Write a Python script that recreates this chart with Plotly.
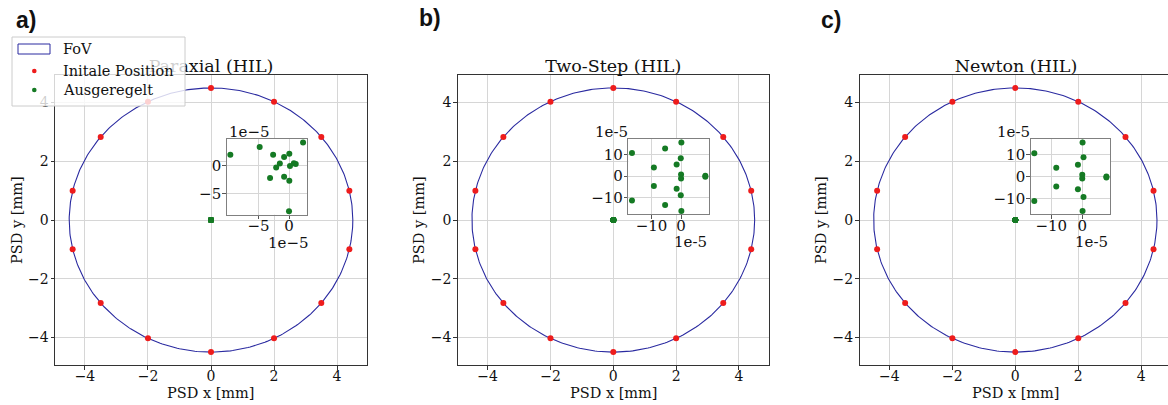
import numpy as np
import plotly.graph_objects as go

W, H = 1168, 405

# ---------------- data ----------------
FOV_RADIUS = 4.5  # mm
init_x = [0.0, 2.0, 3.5, 4.39, 4.39, 3.5, 2.0, 0.0, -2.0, -3.5, -4.39, -4.39, -3.5, -2.0]
init_y = [4.5, 4.03, 2.83, 1.0, -1.0, -2.83, -4.03, -4.5, -4.03, -2.83, -1.0, 1.0, 2.83, 4.03]

OFFSET = 1e-5  # settled positions are given in units of 1e-5 mm
settled_a_x = [-9.6, -4.8, 2.3, -2.6, -0.8, 0.05, -1.5, -2.1, 0.16, 0.8, 1.1, -3.1, -0.8, 0.05, 0.0]
settled_a_y = [1.9, 3.3, 4.1, 1.9, 1.5, 2.1, 0.35, -0.35, -0.06, 0.4, 0.3, -2.2, -2.0, -2.7, -8.1]
settled_b_x = [-16.6, -5.4, 0.1, -9.2, -1.5, -0.1, 0.0, 0.0, 8.2, 8.2, -9.2, -1.5, -0.1, -16.6, -5.4, 0.1]
settled_b_y = [10.8, 12.9, 15.7, 4.0, 5.5, 8.3, 0.8, -1.1, 0.2, -0.3, -4.6, -5.8, -8.8, -11.3, -13.4, -16.1]
settled_c_x = [-15.5, 0.1, 0.4, -8.4, -1.4, 0.0, 0.0, 7.8, 7.8, -8.4, -1.4, 0.4, -15.5, 0.1]
settled_c_y = [10.8, 15.8, 8.9, 4.1, 5.5, 0.9, -0.9, 0.1, -0.4, -4.5, -5.8, -9.4, -11.2, -15.8]

panel_titles = ["Paraxial (HIL)", "Two-Step (HIL)", "Newton (HIL)"]
panel_labels = ["a)", "b)", "c)"]
legend_names = ["FoV", "Initale Position", "Ausgeregelt"]
main_ticks = [-4, -2, 0, 2, 4]
main_ticktext = ["\u22124", "\u22122", "0", "2", "4"]
inset_x_ticks = [[-5, 0], [-10, 0], [-10, 0]]
inset_y_ticks = [[-5, 0], [-10, 0, 10], [-10, 0, 10]]
offset_labels = ["1e\u22125", "1e-5", "1e-5"]

# ---------------- styling / layout geometry ----------------
SERIF = "DejaVu Serif"
BLUE = "#2a2aa0"
RED = "#ee1c1c"
GREEN = "#157a24"
GRID = "#d6d6d6"
SPINE = "#333333"


def fx(p):
    return p / W


def fy(p):
    return 1 - p / H


MAIN_TOP, MAIN_BOTTOM = 74.7, 365.3
YLIM = 4.95
main_x_dom = [[55.0, 367.0], [457.8, 768.8], [859.5, 1168.0]]
main_y_dom = [fy(MAIN_BOTTOM), fy(MAIN_TOP)]
main_x_range = [[-4.95, 4.95], [-4.95, 4.95], [-4.95, 4.85]]
title_cx = [211.0, 613.3, 1016.0]
inset_x_dom = [[226.7, 306.7], [628.3, 709.0], [1030.7, 1110.0]]
inset_y_dom = [[214.7, 139.0], [214.3, 139.0], [214.3, 139.0]]
upper_off = [(227, 132), (592.7, 131.7), (995, 131.7)]
lower_off = [(266, 242.5), (671.7, 242.3), (1073, 242.3)]
label_pos = [(14, 20), (417, 18), (819, 20)]
ytitle_x = [17, 419, 821]

settled = [(settled_a_x, settled_a_y), (settled_b_x, settled_b_y), (settled_c_x, settled_c_y)]

theta = np.linspace(0, 2 * np.pi, 400)
circ_x = FOV_RADIUS * np.cos(theta)
circ_y = FOV_RADIUS * np.sin(theta)

fig = go.Figure()
layout = dict(
    width=W, height=H, autosize=False,
    margin=dict(l=0, r=0, t=0, b=0),
    paper_bgcolor="white", plot_bgcolor="white",
    font=dict(family=SERIF, size=14, color="#111"),
    showlegend=False,
)
annotations = []
shapes = []

for i in range(3):
    xa = "x" if i == 0 else f"x{i+1}"
    ya = "y" if i == 0 else f"y{i+1}"
    sx, sy = settled[i]
    gx = np.array(sx) * OFFSET
    gy = np.array(sy) * OFFSET

    fig.add_trace(go.Scatter(x=circ_x, y=circ_y, mode="lines", name=legend_names[0],
                             line=dict(color=BLUE, width=1.1),
                             xaxis=xa, yaxis=ya, hoverinfo="skip"))
    fig.add_trace(go.Scatter(x=init_x, y=init_y, mode="markers", name=legend_names[1],
                             marker=dict(color=RED, size=6), xaxis=xa, yaxis=ya))
    fig.add_trace(go.Scatter(x=gx, y=gy, mode="markers", name=legend_names[2],
                             marker=dict(color=GREEN, size=6), xaxis=xa, yaxis=ya))

    key = "" if i == 0 else str(i + 1)
    layout["xaxis" + key] = dict(
        domain=[fx(main_x_dom[i][0]), fx(main_x_dom[i][1])], anchor=ya,
        range=main_x_range[i], tickvals=main_ticks, ticktext=main_ticktext,
        showgrid=True, gridcolor=GRID, gridwidth=0.8, zeroline=False,
        showline=True, linecolor=SPINE, linewidth=1, mirror=True,
        ticks="outside", ticklen=3.5, tickwidth=0.8, tickcolor=SPINE,
        ticklabelstandoff=-6,
        tickfont=dict(family=SERIF, size=14), fixedrange=True,
    )
    layout["yaxis" + key] = dict(
        domain=main_y_dom, anchor=xa,
        range=[-YLIM, YLIM], tickvals=main_ticks, ticktext=main_ticktext,
        showgrid=True, gridcolor=GRID, gridwidth=0.8, zeroline=False,
        showline=True, linecolor=SPINE, linewidth=1, mirror=(i < 2),
        ticks="outside", ticklen=3.5, tickwidth=0.8, tickcolor=SPINE,
        ticklabelstandoff=-1,
        tickfont=dict(family=SERIF, size=14), fixedrange=True,
    )

    # panel title as a shape label (so the legend box can be layered over it)
    shapes.append(dict(type="rect", xref="paper", yref="paper", layer="above",
                       x0=fx(title_cx[i] - 100), x1=fx(title_cx[i] + 100),
                       y0=fy(74), y1=fy(54), line=dict(color="rgba(0,0,0,0)", width=0),
                       fillcolor="rgba(0,0,0,0)",
                       label=dict(text=panel_titles[i], textposition="middle center",
                                  font=dict(family=SERIF, size=17.5, color="#111"))))

    cx = main_x_dom[i][0] + 156.0
    annotations.append(dict(text="<b>" + panel_labels[i] + "</b>", x=fx(label_pos[i][0]),
                            y=fy(label_pos[i][1]), xref="paper", yref="paper", showarrow=False,
                            xanchor="left", yanchor="middle",
                            font=dict(family="Liberation Sans", size=23, color="#111")))
    annotations.append(dict(text="PSD x [mm]", x=fx(cx), y=fy(393), xref="paper", yref="paper",
                            showarrow=False, xanchor="center", yanchor="middle",
                            font=dict(family=SERIF, size=14.5, color="#111")))
    annotations.append(dict(text="PSD y [mm]", x=fx(ytitle_x[i]), y=fy(220), xref="paper",
                            yref="paper", showarrow=False, xanchor="center", yanchor="middle",
                            textangle=-90, font=dict(family=SERIF, size=14.5, color="#111")))

# insets
for i in range(3):
    n = i + 4
    xa, ya = f"x{n}", f"y{n}"
    sx, sy = settled[i]
    gx = np.array(sx) * OFFSET
    gy = np.array(sy) * OFFSET
    fig.add_trace(go.Scatter(x=gx, y=gy, mode="markers", name=legend_names[2],
                             marker=dict(color=GREEN, size=6), xaxis=xa, yaxis=ya))
    xpad = 0.05 * (max(gx) - min(gx))
    ypad = 0.05 * (max(gy) - min(gy))
    xt = [v * OFFSET for v in inset_x_ticks[i]]
    yt = [v * OFFSET for v in inset_y_ticks[i]]
    fmt = lambda v: ("\u2212" + str(-v)) if v < 0 else str(v)
    layout[f"xaxis{n}"] = dict(
        domain=[fx(inset_x_dom[i][0]), fx(inset_x_dom[i][1])], anchor=ya,
        range=[min(gx) - xpad, max(gx) + xpad],
        tickvals=xt, ticktext=[fmt(v) for v in inset_x_ticks[i]],
        showgrid=True, gridcolor=GRID, gridwidth=0.8, zeroline=False,
        showline=True, linecolor="#808080", linewidth=1, mirror=True,
        ticks="outside", ticklen=3.5, tickwidth=0.8, tickcolor="#555",
        ticklabelstandoff=-6,
        tickfont=dict(family=SERIF, size=15), fixedrange=True,
    )
    layout[f"yaxis{n}"] = dict(
        domain=[fy(inset_y_dom[i][0]), fy(inset_y_dom[i][1])], anchor=xa,
        range=[min(gy) - ypad, max(gy) + ypad],
        tickvals=yt, ticktext=[fmt(v) for v in inset_y_ticks[i]],
        showgrid=True, gridcolor=GRID, gridwidth=0.8, zeroline=False,
        showline=True, linecolor="#808080", linewidth=1, mirror=True,
        ticks="outside", ticklen=3.5, tickwidth=0.8, tickcolor="#555",
        ticklabelstandoff=-2,
        tickfont=dict(family=SERIF, size=15), fixedrange=True,
    )
    annotations.append(dict(text=offset_labels[i], x=fx(upper_off[i][0]), y=fy(upper_off[i][1]),
                            xref="paper", yref="paper", showarrow=False, xanchor="left",
                            yanchor="middle", font=dict(family=SERIF, size=15, color="#111")))
    annotations.append(dict(text=offset_labels[i], x=fx(lower_off[i][0]), y=fy(lower_off[i][1]),
                            xref="paper", yref="paper", showarrow=False, xanchor="left",
                            yanchor="middle", font=dict(family=SERIF, size=15, color="#111")))

# ---------- legend (matplotlib-style box, upper left) ----------
shapes.append(dict(type="rect", xref="paper", yref="paper", layer="above",
                   x0=fx(12), x1=fx(185), y0=fy(106), y1=fy(37),
                   fillcolor="rgba(255,255,255,0.8)", line=dict(color="#cccccc", width=1)))
shapes.append(dict(type="rect", xref="paper", yref="paper", layer="above",
                   x0=fx(18), x1=fx(50), y0=fy(54), y1=fy(44),
                   fillcolor="rgba(255,255,255,0)", line=dict(color=BLUE, width=1)))
for cy, col in [(71, RED), (90, GREEN)]:
    shapes.append(dict(type="circle", xref="paper", yref="paper", layer="above",
                       x0=fx(32), x1=fx(36.6), y0=fy(cy + 2.3), y1=fy(cy - 2.3),
                       fillcolor=col, line=dict(color=col, width=0)))
for cy, name in zip([49, 71, 90], legend_names):
    annotations.append(dict(text=name, x=fx(61), y=fy(cy), xref="paper", yref="paper",
                            showarrow=False, xanchor="left", yanchor="middle",
                            font=dict(family=SERIF, size=14.5, color="#111")))

layout["annotations"] = annotations
layout["shapes"] = shapes
fig.update_layout(**layout)
fig.write_html("out.html")
